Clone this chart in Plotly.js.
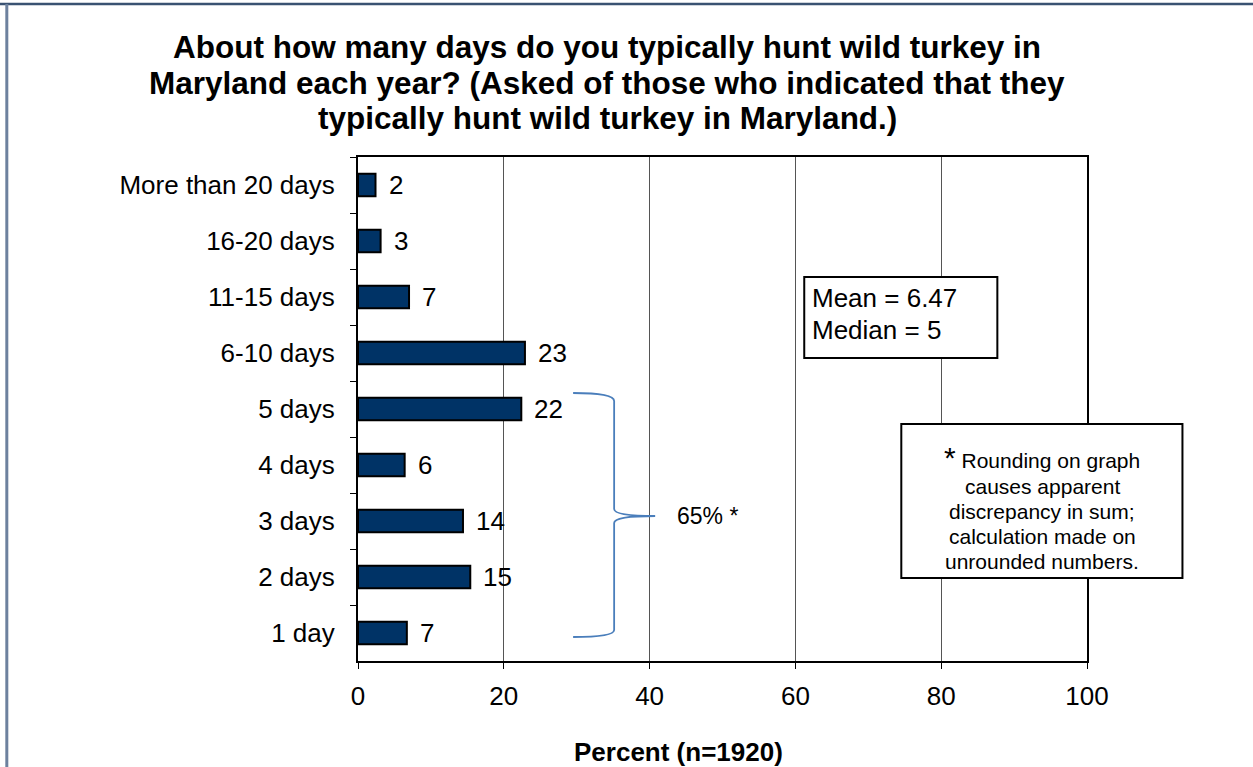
<!DOCTYPE html>
<html>
<head>
<meta charset="utf-8">
<script src="https://cdn.plot.ly/plotly-3.0.1.min.js"></script>
<style>html,body{margin:0;padding:0;background:#fff;}#chart{width:1253px;height:767px;}</style>
</head>
<body>
<div id="chart"></div>
<script>
const categories = ["More than 20 days","16-20 days","11-15 days","6-10 days","5 days","4 days","3 days","2 days","1 day"];
const percents = [2.4, 3.1, 7.0, 22.9, 22.4, 6.4, 14.4, 15.4, 6.7];
const xTicks = [0, 20, 40, 60, 80, 100];
const titleLines = ["About how many days do you typically hunt wild turkey in",
                    "Maryland each year? (Asked of those who indicated that they",
                    "typically hunt wild turkey in Maryland.)"];
const statsLines = ["Mean = 6.47", "Median = 5"];
const braceText = "65% *";
const noteLines = ["<span style='font-size:30px'>*</span> Rounding on graph", "causes apparent",
                   "discrepancy in sum;", "calculation made on", "unrounded numbers."];
const axisTitle = "Percent (n=1920)";

const FONT = "Liberation Sans, Arial, sans-serif";
const W = 1253, H = 767;
const L = 358, R = 1253 - 1086.6, T = 157, B = 767 - 661;
const pw = W - L - R, ph = H - T - B;
const px = x => (x - L) / pw;
const py = y => (H - B - y) / ph;

const trace = {
  type: "bar",
  orientation: "h",
  x: percents,
  y: categories,
  width: 0.4,
  marker: {color: "#003366", line: {color: "#000", width: 2}},
  hoverinfo: "none"
};

const labelAnns = percents.map((v, i) => ({
  x: v, y: categories[i], xref: "x", yref: "y",
  text: String(Math.round(v)), showarrow: false,
  xanchor: "left", yanchor: "middle", xshift: 11,
  font: {family: FONT, size: 26, color: "#000"}
}));

const titleAnns = titleLines.map((t, i) => ({
  x: px(607), y: py(47 + i * 35.5), xref: "paper", yref: "paper", text: "<b>" + t + "</b>",
  showarrow: false, xanchor: "center", yanchor: "middle",
  font: {family: FONT, size: 31.5, color: "#000"}
}));

const statsAnns = statsLines.map((t, i) => ({
  x: px(810), y: py(298 + i * 32), xref: "paper", yref: "paper", text: t,
  showarrow: false, xanchor: "left", yanchor: "middle",
  font: {family: FONT, size: 26, color: "#000"}
}));

const noteAnns = noteLines.map((t, i) => ({
  x: px(1042), y: py(i === 0 ? 457 : 461 + i * 25), xref: "paper", yref: "paper", text: t,
  showarrow: false, xanchor: "center", yanchor: "middle",
  font: {family: FONT, size: 21, color: "#000"}
}));

const annotations = labelAnns.concat(titleAnns, statsAnns, noteAnns, [
  {x: px(675), y: py(516), xref: "paper", yref: "paper", text: braceText, showarrow: false,
   xanchor: "left", yanchor: "middle", font: {family: FONT, size: 23, color: "#000"}},
  {x: px(678), y: py(752), xref: "paper", yref: "paper", text: "<b>" + axisTitle + "</b>", showarrow: false,
   xanchor: "center", yanchor: "middle", font: {family: FONT, size: 26, color: "#000"}}
]);

const brace = "M " + px(573) + "," + py(393) +
  " Q " + px(614) + "," + py(393) + " " + px(614) + "," + py(401) +
  " L " + px(614) + "," + py(509) +
  " Q " + px(614) + "," + py(516) + " " + px(655) + "," + py(516) +
  " Q " + px(614) + "," + py(516) + " " + px(614) + "," + py(523) +
  " L " + px(614) + "," + py(630) +
  " Q " + px(614) + "," + py(637) + " " + px(573) + "," + py(637);

const shapes = [
  {type: "path", xref: "paper", yref: "paper", path: brace, line: {color: "#4a7ebb", width: 1.8}},
  {type: "rect", xref: "paper", yref: "paper", layer: "above", x0: px(804), x1: px(997), y0: py(358), y1: py(277),
   fillcolor: "#fff", line: {color: "#000", width: 2}},
  {type: "rect", xref: "paper", yref: "paper", layer: "above", x0: px(901), x1: px(1182), y0: py(578), y1: py(424),
   fillcolor: "#fff", line: {color: "#000", width: 2}},
  {type: "line", xref: "paper", yref: "paper", x0: px(0), x1: px(1253), y0: py(4), y1: py(4),
   line: {color: "#3a5272", width: 2.5}},
  {type: "line", xref: "paper", yref: "paper", x0: px(7), x1: px(7), y0: py(4), y1: py(767),
   line: {color: "#6d819e", width: 3}}
];

const layout = {
  width: W, height: H,
  margin: {l: L, r: R, t: T, b: B, pad: 0},
  paper_bgcolor: "#fff", plot_bgcolor: "#fff",
  showlegend: false,
  font: {family: FONT, color: "#000"},
  xaxis: {range: [0, 100], tickvals: xTicks, ticktext: xTicks.map(String), ticks: "outside", ticklen: 6,
          tickcolor: "#000", tickwidth: 1, showgrid: true, gridcolor: "#555", gridwidth: 1,
          showline: true, linecolor: "#000", linewidth: 2, mirror: true, zeroline: false,
          tickfont: {family: FONT, size: 26, color: "#000"}, ticklabelstandoff: 5, fixedrange: true},
  yaxis: {type: "category", autorange: "reversed", ticks: "outside", ticklen: 6, tickson: "boundaries",
          tickcolor: "#000", tickwidth: 1, showgrid: false, showline: true, linecolor: "#000",
          linewidth: 2, mirror: true, zeroline: false,
          tickfont: {family: FONT, size: 26, color: "#000"}, ticklabelstandoff: 16, fixedrange: true},
  annotations: annotations,
  shapes: shapes
};

Plotly.newPlot("chart", [trace], layout, {staticPlot: true, displayModeBar: false});
</script>
</body>
</html>
